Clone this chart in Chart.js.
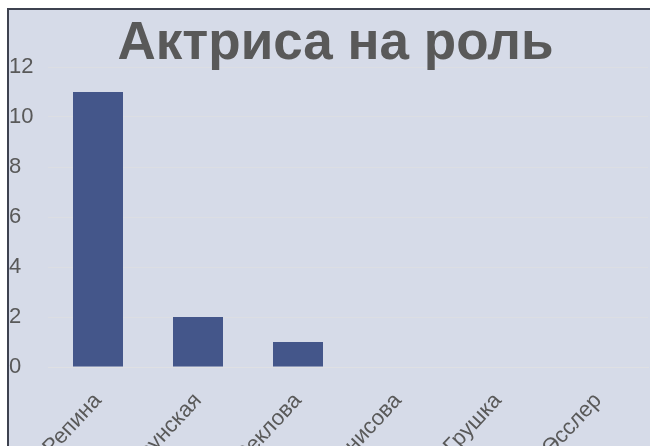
<!DOCTYPE html>
<html>
<head>
<meta charset="utf-8">
<script src="https://cdn.jsdelivr.net/npm/chart.js@4.4.1/dist/chart.umd.min.js"></script>
<style>
  html, body { margin: 0; padding: 0; background: #ffffff; overflow: hidden; }
  #frame {
    position: absolute; left: 7px; top: 8px; width: 643px; height: 438px;
    border-left: 2px solid #3e4250; border-top: 2px solid #3e4250;
    background: #d6dbe8; overflow: hidden;
  }
  #wrap { position: absolute; left: -9px; top: -10px; width: 662px; height: 530px; }
</style>
</head>
<body>
<div id="frame"><div id="wrap"><canvas id="chart"></canvas></div></div>
<script>
const actresses = ["Анна Репина", "Мария Брунская", "Ольга Секлова", "Елена Денисова", "Ирина Грушка", "Яна Эсслер"];
const votes = [11, 2, 1, 0, 0, 0];
const yTicks = [0, 2, 4, 6, 8, 10, 12];

const textColor = "#595959";
const fontFamily = "Liberation Sans, Arial, sans-serif";

const config = {
  type: "bar",
  data: {
    labels: actresses,
    datasets: [
      {
        label: "Голоса",
        data: votes,
        backgroundColor: "#44568a",
        categoryPercentage: 1,
        barPercentage: 0.5,
      },
    ],
  },
  options: {
    responsive: false,
    animation: false,
    devicePixelRatio: 1,
    layout: { padding: { left: 9, right: 0, top: 0, bottom: 0 } },
    plugins: {
      legend: { display: false },
      tooltip: { enabled: false },
      title: {
        display: true,
        text: "Актриса на роль",
        color: textColor,
        font: { family: fontFamily, size: 53, weight: "bold", lineHeight: 1 },
        padding: { top: 18, bottom: -4 },
      },
    },
    scales: {
      x: {
        grid: { display: false },
        border: { display: true, color: "#dfe0e3", width: 1 },
        ticks: {
          color: textColor,
          font: { family: fontFamily, size: 22 },
          minRotation: 47,
          maxRotation: 47,
          autoSkip: false,
          padding: 13,
        },
        afterFit(scale) {
          scale.height = 163;
          // labels run off the bottom-left like in the original, don't shrink the plot for them
          scale.paddingLeft = 0;
          scale.paddingRight = 0;
        },
      },
      y: {
        min: 0,
        max: 12,
        afterBuildTicks(scale) { scale.ticks = yTicks.map((v) => ({ value: v })); },
        grid: { color: "#dcdee3", drawTicks: false },
        border: { display: false },
        ticks: {
          color: textColor,
          crossAlign: "far",
          font: { family: fontFamily, size: 22 },
        },
        afterFit(scale) { scale.width = 39; },
      },
      // empty right-hand strip, keeps the title centred like the original
      y2: {
        position: "right",
        grid: { display: false },
        border: { display: false },
        ticks: { display: false },
        afterFit(scale) { scale.width = 14; },
      },
    },
  },
};

const canvas = document.getElementById("chart");
canvas.width = 662;
canvas.height = 530;
new Chart(canvas, config);
</script>
</body>
</html>
